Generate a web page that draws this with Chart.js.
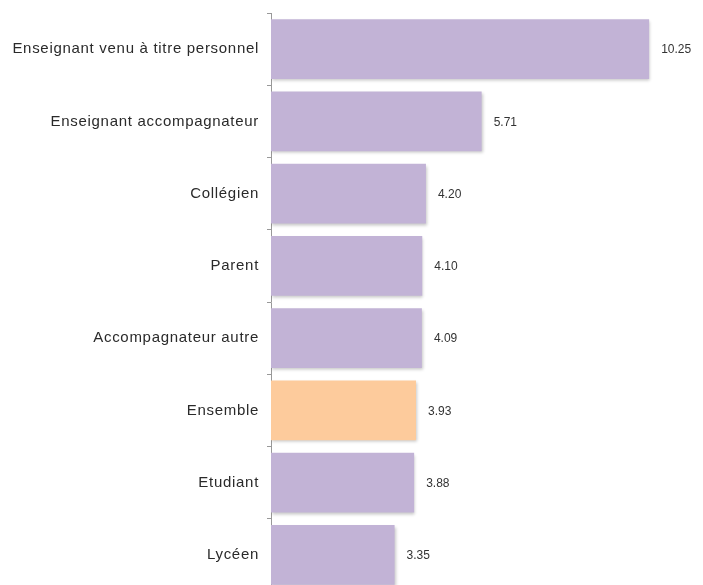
<!DOCTYPE html>
<html>
<head>
<meta charset="utf-8">
<script src="https://cdn.jsdelivr.net/npm/chart.js@4"></script>
<style>
  html, body { margin: 0; padding: 0; background: #fff; overflow: hidden; }
  #wrap { width: 703px; height: 591px; position: relative; }
</style>
</head>
<body>
<div id="wrap"><canvas id="barChart"></canvas></div>
<script>
// Data
const categories = [
  'Enseignant venu à titre personnel',
  'Enseignant accompagnateur',
  'Collégien',
  'Parent',
  'Accompagnateur autre',
  'Ensemble',
  'Etudiant',
  'Lycéen'
];
const values = [10.25, 5.71, 4.20, 4.10, 4.09, 3.93, 3.88, 3.35];
const valueLabels = ['10.25', '5.71', '4.20', '4.10', '4.09', '3.93', '3.88', '3.35'];

const purple = '#c2b3d6';
const peach = '#fdcb9c';
const barColors = categories.map(c => c === 'Ensemble' ? peach : purple);

// slightly wider letter spacing for the category labels
const spacingPlugin = {
  id: 'labelSpacing',
  beforeUpdate(chart) { chart.ctx.letterSpacing = '0.7px'; },
  beforeDraw(chart) { chart.ctx.letterSpacing = '0.7px'; }
};

// soft shadow under the bars
const shadowPlugin = {
  id: 'barShadow',
  beforeDatasetsDraw(chart) {
    const ctx = chart.ctx;
    ctx.save();
    ctx.shadowColor = 'rgba(0,0,0,0.22)';
    ctx.shadowOffsetX = 1;
    ctx.shadowOffsetY = 2;
    ctx.shadowBlur = 3;
  },
  afterDatasetsDraw(chart) {
    chart.ctx.restore();
  }
};

// value text at the end of each bar
const valuePlugin = {
  id: 'valueText',
  afterDatasetsDraw(chart) {
    const ctx = chart.ctx;
    const meta = chart.getDatasetMeta(0);
    ctx.save();
    ctx.letterSpacing = '0px';
    ctx.font = '12px "Liberation Sans", Arial, sans-serif';
    ctx.fillStyle = '#333';
    ctx.textAlign = 'left';
    ctx.textBaseline = 'middle';
    meta.data.forEach((bar, i) => {
      ctx.fillText(valueLabels[i], bar.x + 12, bar.y + 1);
    });
    ctx.restore();
  }
};

const ctx = document.getElementById('barChart').getContext('2d');
const chart = new Chart(ctx, {
  type: 'bar',
  data: {
    labels: categories,
    datasets: [{
      data: values,
      backgroundColor: barColors,
      borderWidth: 0,
      barPercentage: 0.83,
      categoryPercentage: 1.0
    }]
  },
  plugins: [spacingPlugin, shadowPlugin, valuePlugin],
  options: {
    indexAxis: 'y',
    responsive: true,
    maintainAspectRatio: false,
    animation: false,
    layout: { padding: { top: 13, right: 0, bottom: 0, left: 0 } },
    plugins: {
      legend: { display: false },
      tooltip: { enabled: false }
    },
    scales: {
      x: {
        display: false,
        min: 0,
        max: 11.71
      },
      y: {
        afterFit(scale) {
          scale.width = 271;
          scale.paddingTop = 0;
          scale.paddingBottom = 0;
        },
        border: { display: true, color: '#999', width: 1 },
        grid: {
          offset: true,
          drawOnChartArea: false,
          drawTicks: true,
          tickLength: 4,
          color: '#999'
        },
        ticks: {
          padding: 8,
          color: '#2a2a2a',
          font: { family: '"Liberation Sans", Arial, sans-serif', size: 15 }
        }
      }
    }
  }
});
</script>
</body>
</html>
